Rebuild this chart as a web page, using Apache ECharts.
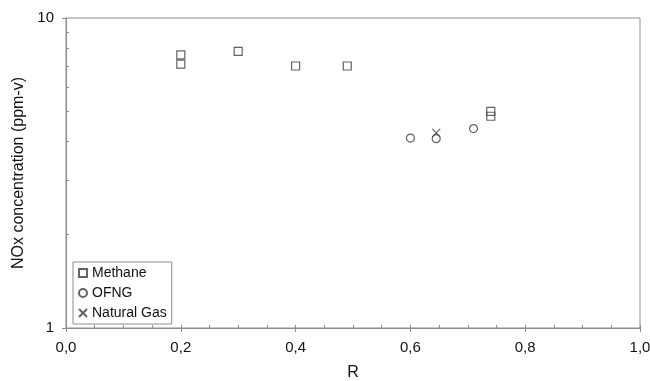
<!DOCTYPE html>
<html>
<head>
<meta charset="utf-8">
<script src="https://cdn.jsdelivr.net/npm/echarts@6/dist/echarts.min.js"></script>
<style>
  html, body { margin: 0; padding: 0; background: #fff; }
  #chart { width: 650px; height: 381px; }
</style>
</head>
<body>
<div id="chart"></div>
<script>
// Methane, OFNG, Natural Gas points as [R, NOx ppm-v]
const methane = [
  [0.2, 7.6], [0.2, 7.1], [0.3, 7.8], [0.4, 7.0], [0.49, 7.0],
  [0.74, 5.0], [0.74, 4.82],
]
const ofng = [[0.6, 4.1], [0.645, 4.08], [0.71, 4.4]]
const naturalGas = [[0.645, 4.26]]
const minorYTicks = [2, 3, 4, 5, 6, 7, 8, 9]

const axisGray = '#8c8c8c'
const markColor = '#3c3c3c'
const textColor = '#111'
const font = 'Liberation Sans, Arial, sans-serif'
const crossPath = 'path://M0,0L10,10M0,10L10,0'

const chart = echarts.init(document.getElementById('chart'))

function markStyle() {
  return { color: 'rgba(0,0,0,0)', borderColor: markColor, borderWidth: 1.2 }
}

chart.setOption({
  animation: false,
  textStyle: { fontFamily: font },
  grid: {
    left: 66, right: 10, top: 18, bottom: 53,
    outerBoundsMode: 'none',
    show: true, borderColor: axisGray, borderWidth: 1,
  },
  legend: {
    left: 73, top: 262,
    orient: 'vertical',
    padding: [3, 5, 3, 5],
    itemGap: 4,
    itemWidth: 8, itemHeight: 8,
    borderColor: axisGray, borderWidth: 1,
    backgroundColor: '#fff',
    textStyle: { fontSize: 14, lineHeight: 16, color: textColor, fontFamily: font },
    data: ['Methane', 'OFNG', 'Natural Gas'],
  },
  xAxis: [
    {
      type: 'value', min: 0, max: 1, interval: 0.2,
      name: 'R', nameLocation: 'middle', nameGap: 37,
      nameTextStyle: { fontSize: 16, color: textColor },
      axisLine: { lineStyle: { color: axisGray } },
      axisTick: { length: 4, lineStyle: { color: axisGray } },
      axisLabel: {
        fontSize: 15, color: textColor, margin: 12,
        formatter: (v) => v.toFixed(1).replace('.', ','),
      },
      splitLine: { show: false },
    },
    {
      type: 'value', min: 0, max: 1, interval: 0.05, position: 'bottom',
      axisLine: { show: false },
      axisTick: { inside: true, length: 3, lineStyle: { color: axisGray } },
      axisLabel: { show: false },
      splitLine: { show: false },
    },
  ],
  yAxis: [
    {
      type: 'log', min: 1, max: 10, logBase: 10,
      name: 'NOx concentration (ppm-v)', nameLocation: 'middle', nameGap: 39,
      nameTextStyle: { fontSize: 16, color: textColor },
      axisLine: { show: true, lineStyle: { color: axisGray } },
      axisTick: { show: true, length: 4, lineStyle: { color: axisGray } },
      axisLabel: { fontSize: 15, color: textColor, margin: 12 },
      splitLine: { show: false },
    },
    {
      type: 'log', min: 1, max: 10, position: 'left',
      axisLine: { show: false },
      axisTick: {
        show: true, inside: true, length: 3,
        customValues: minorYTicks,
        lineStyle: { color: axisGray },
      },
      axisLabel: { show: false },
      splitLine: { show: false },
    },
  ],
  series: [
    {
      name: 'Methane', type: 'scatter', data: methane,
      symbol: 'rect', symbolSize: 8, itemStyle: markStyle(),
    },
    {
      name: 'OFNG', type: 'scatter', data: ofng,
      symbol: 'circle', symbolSize: 8, itemStyle: markStyle(),
    },
    {
      name: 'Natural Gas', type: 'scatter', data: naturalGas,
      symbol: crossPath, symbolSize: 8, itemStyle: markStyle(),
    },
  ],
})
</script>
</body>
</html>
